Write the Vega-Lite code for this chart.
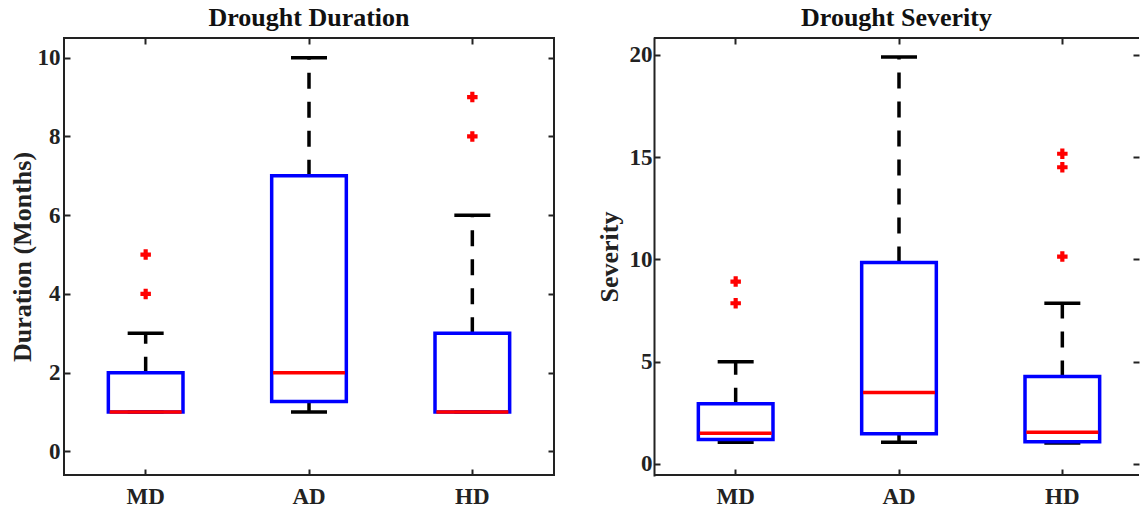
{
  "$schema": "https://vega.github.io/schema/vega-lite/v6.json",
  "padding": {"left": 8, "top": 4, "right": 0, "bottom": 0},
  "spacing": 40,
  "config": {
    "view": {"stroke": "#222222", "strokeWidth": 2},
    "axis": {
      "labelFont": "Liberation Serif", "labelFontWeight": "bold", "labelFontSize": 23, "labelColor": "#222222",
      "titleFont": "Liberation Serif", "titleFontWeight": "bold", "titleFontSize": 26, "titleColor": "#222222",
      "grid": false, "domain": false, "tickColor": "#222222", "tickWidth": 2, "tickSize": -6,
      "domainColor": "#222222", "domainWidth": 2, "domainCap": "square"
    },
    "tick": {"opacity": 1},
    "title": {"font": "Liberation Serif", "fontSize": 26, "fontWeight": "bold", "color": "#111111", "baseline": "alphabetic", "offset": 6}
  },
  "datasets": {
    "dur": [
      {"g": "MD", "lo": 1, "q1": 1, "med": 1, "q3": 2, "hi": 3},
      {"g": "AD", "lo": 1, "q1": 1.27, "med": 2, "q3": 7, "hi": 10},
      {"g": "HD", "lo": 1, "q1": 1, "med": 1, "q3": 3, "hi": 6}
    ],
    "durOut": [
      {"g": "MD", "v": 4}, {"g": "MD", "v": 5}, {"g": "HD", "v": 8}, {"g": "HD", "v": 9}
    ],
    "sev": [
      {"g": "MD", "lo": 1.06, "q1": 1.19, "med": 1.5, "q3": 2.95, "hi": 5.0},
      {"g": "AD", "lo": 1.06, "q1": 1.48, "med": 3.5, "q3": 9.85, "hi": 19.9},
      {"g": "HD", "lo": 1.03, "q1": 1.08, "med": 1.55, "q3": 4.28, "hi": 7.86}
    ],
    "sevOut": [
      {"g": "MD", "v": 8.92}, {"g": "MD", "v": 7.86}, {"g": "HD", "v": 10.14}, {"g": "HD", "v": 14.51}, {"g": "HD", "v": 15.17}
    ],
    "frame": [{"edge": "top", "y": 20.83}, {"edge": "bottom", "y": -0.54}]
  },
  "hconcat": [
    {
      "width": 490, "height": 437,
      "title": {"text": "Drought Duration"},
      "resolve": {"axis": {"x": "independent", "y": "independent"}},
      "layer": [
        {
          "data": {"name": "dur"},
          "mark": {"type": "rule", "color": "#000000", "strokeWidth": 3.5, "strokeDash": [16, 13]},
          "encoding": {
            "x": {"field": "g", "type": "nominal", "sort": ["MD", "AD", "HD"], "scale": {"domain": ["MD", "AD", "HD"], "paddingInner": 0, "paddingOuter": 0},
                  "axis": {"orient": "bottom", "title": null, "labelAngle": 0, "labelPadding": 16}},
            "y": {"field": "q3", "type": "quantitative", "scale": {"domain": [-0.6, 10.5], "nice": false, "zero": false},
                  "axis": {"orient": "left", "title": "Duration (Months)", "values": [0, 2, 4, 6, 8, 10], "labelPadding": 10, "titlePadding": 2}},
            "y2": {"field": "hi"}
          }
        },
        {
          "data": {"name": "dur"},
          "mark": {"type": "rule", "color": "#000000", "strokeWidth": 3.5, "strokeDash": [16, 13]},
          "encoding": {
            "x": {"field": "g", "type": "nominal", "sort": ["MD", "AD", "HD"], "axis": null},
            "y": {"field": "q1", "type": "quantitative", "axis": null},
            "y2": {"field": "lo"}
          }
        },
        {
          "data": {"name": "dur"},
          "mark": {"type": "tick", "color": "#000000", "opacity": 1, "thickness": 3.5, "size": 36},
          "encoding": {
            "x": {"field": "g", "type": "nominal", "sort": ["MD", "AD", "HD"], "axis": null},
            "y": {"field": "hi", "type": "quantitative", "axis": null}
          }
        },
        {
          "data": {"name": "dur"},
          "mark": {"type": "tick", "color": "#000000", "opacity": 1, "thickness": 3.5, "size": 36},
          "encoding": {
            "x": {"field": "g", "type": "nominal", "sort": ["MD", "AD", "HD"], "axis": null},
            "y": {"field": "lo", "type": "quantitative", "axis": null}
          }
        },
        {
          "data": {"name": "dur"},
          "mark": {"type": "bar", "fill": "#ffffff", "fillOpacity": 0, "stroke": "#0000ff", "strokeWidth": 3.5, "width": {"band": 0.457}},
          "encoding": {
            "x": {"field": "g", "type": "nominal", "sort": ["MD", "AD", "HD"], "axis": null},
            "y": {"field": "q1", "type": "quantitative", "axis": null},
            "y2": {"field": "q3"}
          }
        },
        {
          "data": {"name": "dur"},
          "mark": {"type": "tick", "color": "#ff0000", "opacity": 1, "thickness": 3.5, "size": 72},
          "encoding": {
            "x": {"field": "g", "type": "nominal", "sort": ["MD", "AD", "HD"], "axis": {"orient": "top", "labels": false, "title": null}},
            "y": {"field": "med", "type": "quantitative", "axis": {"orient": "right", "labels": false, "title": null, "values": [0, 2, 4, 6, 8, 10]}}
          }
        },
        {
          "data": {"name": "durOut"},
          "mark": {"type": "point", "shape": "cross", "filled": true, "color": "#ff0000", "size": 110, "opacity": 1},
          "encoding": {
            "x": {"field": "g", "type": "nominal", "sort": ["MD", "AD", "HD"], "axis": null},
            "y": {"field": "v", "type": "quantitative", "axis": null}
          }
        }
      ]
    },
    {
      "width": 485, "height": 437,
      "view": {"stroke": null},
      "title": {"text": "Drought Severity"},
      "resolve": {"axis": {"x": "independent", "y": "independent"}},
      "layer": [
        {
          "data": {"name": "sev"},
          "mark": {"type": "rule", "color": "#000000", "strokeWidth": 3.5, "strokeDash": [16, 13]},
          "encoding": {
            "x": {"field": "g", "type": "nominal", "sort": ["MD", "AD", "HD"], "scale": {"domain": ["MD", "AD", "HD"], "paddingInner": 0, "paddingOuter": 0, "range": [0, 490]},
                  "axis": {"orient": "bottom", "title": null, "labelAngle": 0, "labelPadding": 16}},
            "y": {"field": "q3", "type": "quantitative", "scale": {"domain": [-0.54, 20.83], "nice": false, "zero": false},
                  "axis": {"orient": "left", "title": "Severity", "values": [0, 5, 10, 15, 20], "labelPadding": 8, "titlePadding": 7, "domain": true}},
            "y2": {"field": "hi"}
          }
        },
        {
          "data": {"name": "frame"},
          "mark": {"type": "rule", "color": "#222222", "strokeWidth": 2},
          "encoding": {"y": {"field": "y", "type": "quantitative", "axis": null}}
        },
        {
          "data": {"name": "sev"},
          "mark": {"type": "rule", "color": "#000000", "strokeWidth": 3.5, "strokeDash": [16, 13]},
          "encoding": {
            "x": {"field": "g", "type": "nominal", "sort": ["MD", "AD", "HD"], "axis": null},
            "y": {"field": "q1", "type": "quantitative", "axis": null},
            "y2": {"field": "lo"}
          }
        },
        {
          "data": {"name": "sev"},
          "mark": {"type": "tick", "color": "#000000", "opacity": 1, "thickness": 3.5, "size": 36},
          "encoding": {
            "x": {"field": "g", "type": "nominal", "sort": ["MD", "AD", "HD"], "axis": null},
            "y": {"field": "hi", "type": "quantitative", "axis": null}
          }
        },
        {
          "data": {"name": "sev"},
          "mark": {"type": "tick", "color": "#000000", "opacity": 1, "thickness": 3.5, "size": 36},
          "encoding": {
            "x": {"field": "g", "type": "nominal", "sort": ["MD", "AD", "HD"], "axis": null},
            "y": {"field": "lo", "type": "quantitative", "axis": null}
          }
        },
        {
          "data": {"name": "sev"},
          "mark": {"type": "bar", "fill": "#ffffff", "fillOpacity": 0, "stroke": "#0000ff", "strokeWidth": 3.5, "width": {"band": 0.457}},
          "encoding": {
            "x": {"field": "g", "type": "nominal", "sort": ["MD", "AD", "HD"], "axis": null},
            "y": {"field": "q1", "type": "quantitative", "axis": null},
            "y2": {"field": "q3"}
          }
        },
        {
          "data": {"name": "sev"},
          "mark": {"type": "tick", "color": "#ff0000", "opacity": 1, "thickness": 3.5, "size": 72},
          "encoding": {
            "x": {"field": "g", "type": "nominal", "sort": ["MD", "AD", "HD"], "axis": {"orient": "top", "labels": false, "title": null}},
            "y": {"field": "med", "type": "quantitative", "axis": {"orient": "right", "labels": false, "title": null, "values": [0, 5, 10, 15, 20]}}
          }
        },
        {
          "data": {"name": "sevOut"},
          "mark": {"type": "point", "shape": "cross", "filled": true, "color": "#ff0000", "size": 110, "opacity": 1},
          "encoding": {
            "x": {"field": "g", "type": "nominal", "sort": ["MD", "AD", "HD"], "axis": null},
            "y": {"field": "v", "type": "quantitative", "axis": null}
          }
        }
      ]
    }
  ]
}
